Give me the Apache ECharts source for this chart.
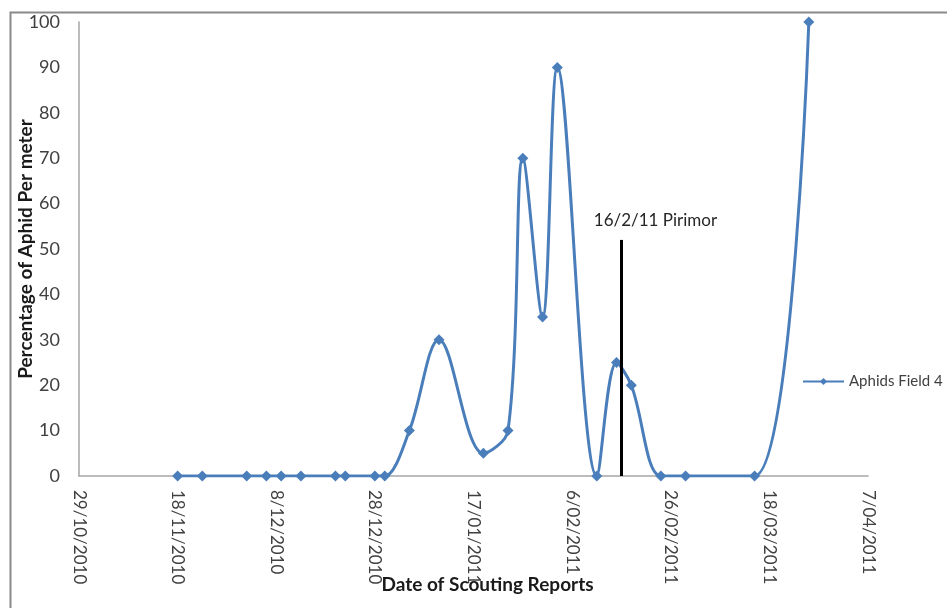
<!DOCTYPE html>
<html>
<head>
<meta charset="utf-8">
<script src="https://cdn.jsdelivr.net/npm/echarts@6/dist/echarts.min.js"></script>
<style>
  html, body { margin: 0; padding: 0; background: #fff; }
  #chart { width: 947px; height: 608px; }
</style>
</head>
<body>
<div id="chart"></div>
<script>
// Scouting dates and aphid percentages for Field 4
const scoutDates = [
  '2010-11-18', '2010-11-23', '2010-12-02', '2010-12-06', '2010-12-09', '2010-12-13',
  '2010-12-20', '2010-12-22', '2010-12-28', '2010-12-30', '2011-01-04', '2011-01-10',
  '2011-01-19', '2011-01-24', '2011-01-27', '2011-01-31', '2011-02-03', '2011-02-11',
  '2011-02-15', '2011-02-18', '2011-02-24', '2011-03-01', '2011-03-15', '2011-03-26'
];
const aphidPct = [
  0, 0, 0, 0, 0, 0,
  0, 0, 0, 0, 10, 30,
  5, 10, 70, 35, 90, 0,
  25, 20, 0, 0, 0, 100
];

// Spray event marker
const sprayDate = '2011-02-16';
const sprayLabel = '16/2/11 Pirimor';
const sprayHeight = 52;

// Axis range (spreadsheet day serials, 20-day steps)
const xStart = '2010-10-29';
const xEnd = '2011-04-07';
const xStepDays = 20;

function serial(s) {
  const [y, m, d] = s.split('-').map(Number);
  return Date.UTC(y, m - 1, d) / 86400000 + 25569;
}
function fmtSerial(v) {
  const dt = new Date((v - 25569) * 86400000);
  const d = dt.getUTCDate();
  const m = String(dt.getUTCMonth() + 1).padStart(2, '0');
  return d + '/' + m + '/' + dt.getUTCFullYear();
}

const seriesData = scoutDates.map((s, i) => [serial(s), aphidPct[i]]);
const font = 'Lato, "Noto Sans", sans-serif';

const chart = echarts.init(document.getElementById('chart'));
chart.setOption({
  animation: false,
  backgroundColor: '#ffffff',
  textStyle: { fontFamily: font },
  grid: { left: 79, right: 79, top: 22, bottom: 132, containLabel: false, outerBoundsMode: 'none' },
  graphic: [{
    type: 'rect',
    left: 8, top: 10,
    shape: { width: 1200, height: 1000 },
    style: { fill: 'none', stroke: '#8a8a8a', lineWidth: 2 },
    silent: true
  }],
  legend: {
    left: 802, top: 374,
    padding: 0,
    itemWidth: 41, itemHeight: 9,
    textStyle: { fontFamily: font, fontSize: 15, color: '#404040' },
    data: ['Aphids Field 4']
  },
  xAxis: {
    type: 'value',
    min: serial(xStart),
    max: serial(xEnd),
    interval: xStepDays,
    name: 'Date of Scouting Reports',
    nameLocation: 'middle',
    nameGap: 99,
    nameMoveOverlap: false,
    nameTextStyle: { fontFamily: font, fontSize: 19, fontWeight: 'bold', color: '#1a1a1a', padding: [0, 0, 0, 28] },
    axisLine: { show: true, lineStyle: { color: '#a6a6a6', width: 1.5 } },
    axisTick: { show: false },
    splitLine: { show: false },
    axisLabel: {
      rotate: -90,
      margin: 14,
      fontFamily: font, fontSize: 17, color: '#404040',
      formatter: fmtSerial
    }
  },
  yAxis: {
    type: 'value',
    min: 0, max: 100, interval: 10,
    name: 'Percentage of Aphid Per meter',
    nameLocation: 'middle',
    nameGap: 44,
    nameMoveOverlap: false,
    nameTextStyle: { fontFamily: font, fontSize: 19, fontWeight: 'bold', color: '#1a1a1a' },
    axisLine: { show: true, lineStyle: { color: '#a6a6a6', width: 1.5 } },
    axisTick: { show: false },
    splitLine: { show: false },
    axisLabel: { margin: 19, fontFamily: font, fontSize: 18, color: '#404040' }
  },
  series: [{
    name: 'Aphids Field 4',
    type: 'line',
    data: seriesData,
    smooth: 0.35,
    symbol: 'diamond',
    symbolSize: 11,
    lineStyle: { color: '#4a7ebb', width: 3 },
    itemStyle: { color: '#4a7ebb' },
    markLine: {
      silent: true,
      symbol: 'none',
      lineStyle: { color: '#000000', width: 3, type: 'solid' },
      label: {
        show: true,
        position: 'end',
        formatter: sprayLabel,
        fontFamily: font, fontSize: 17, color: '#262626',
        offset: [34, -6]
      },
      data: [[
        { coord: [serial(sprayDate), 0] },
        { coord: [serial(sprayDate), sprayHeight] }
      ]]
    }
  }]
});
</script>
</body>
</html>
